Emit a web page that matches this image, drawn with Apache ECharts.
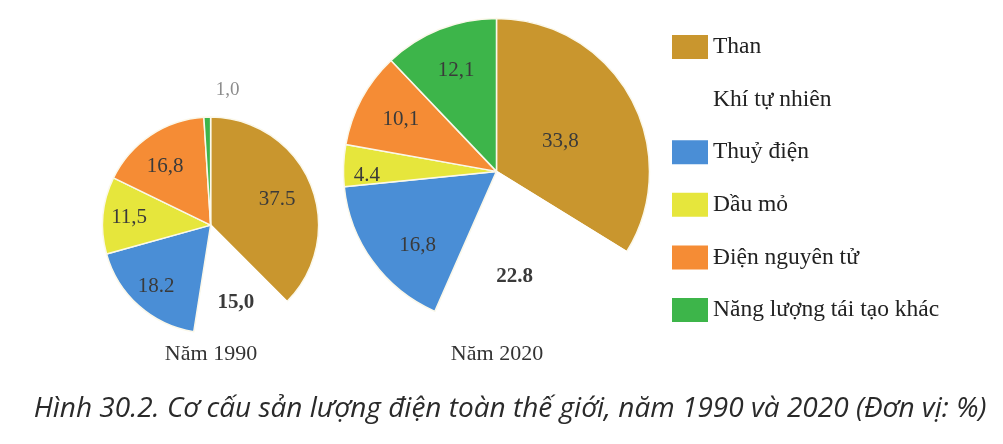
<!DOCTYPE html>
<html>
<head>
<meta charset="utf-8">
<script src="https://cdn.jsdelivr.net/npm/echarts@6/dist/echarts.min.js"></script>
<style>
  html, body { margin: 0; padding: 0; background: #ffffff; }
  #chart { width: 1003px; height: 444px; }
</style>
</head>
<body>
<div id="chart"></div>
<script>
// nguồn điện, theo thứ tự vẽ (bắt đầu từ đỉnh, theo chiều kim đồng hồ)
var categories = ['Than', 'Khí tự nhiên', 'Thuỷ điện', 'Dầu mỏ', 'Điện nguyên tử', 'Năng lượng tái tạo khác'];
var colors = ['#c9962e', '#ffffff', '#4a8ed6', '#e6e63c', '#f58c35', '#3db54a'];

var values1990 = [37.5, 15.0, 18.2, 11.5, 16.8, 1.0];
var values2020 = [33.8, 22.8, 16.8, 4.4, 10.1, 12.1];

// nhãn ghi đúng như trên hình (có chỗ dấu phẩy, có chỗ dấu chấm)
var labels1990 = ['37.5', '15,0', '18.2', '11,5', '16,8', '1,0'];
var labels2020 = ['33,8', '22.8', '16,8', '4.4', '10,1', '12,1'];

var years = ['Năm 1990', 'Năm 2020'];
var caption = 'Hình 30.2. Cơ cấu sản lượng điện toàn thế giới, năm 1990 và 2020 (Đơn vị: %)';

var SERIF = '"Liberation Serif", "DejaVu Serif", serif';
var LABEL_STYLE = { fontFamily: SERIF, fontSize: 21, color: '#3a3a3a' };

// chỉnh nhẹ vị trí vài nhãn cho giống bản gốc
var nudge1990 = { 0: [-9, 6], 4: [0, 9], 5: [38, -5] };
var nudge2020 = { 0: [-31, 23], 1: [-14, 2], 2: [9, 10], 3: [-21, 8] };

function $extend(a, b) {
    for (var k in b) { a[k] = b[k]; }
    return a;
}

function buildData(values, labels, outsideIdx, nudge) {
    var data = [];
    for (var i = 0; i < values.length; i++) {
        var item = { name: categories[i], value: values[i] };
        if (colors[i] === '#ffffff') {
            item.itemStyle = { borderColor: '#ffffff' };
        }
        if (i === outsideIdx) {
            item.label = {
                show: true, position: 'outside', formatter: labels[i],
                color: '#8c8c8c', fontSize: 19, offset: nudge[i]
            };
            item.labelLine = { show: false, length: 22, length2: 0 };
        }
        data.push(item);
    }
    return data;
}

function overlayData(values, labels, skipIdx, nudge) {
    var data = [];
    for (var i = 0; i < values.length; i++) {
        var lab = { show: i !== skipIdx, formatter: labels[i] };
        if (nudge[i]) { lab.offset = nudge[i]; }
        if (colors[i] === '#ffffff') { lab.fontWeight = 'bold'; }
        data.push({ name: categories[i], value: values[i], label: lab });
    }
    return data;
}

// bánh thật + lớp trong suốt chỉ để đặt nhãn xa tâm hơn
function pieSeries(center, r, ratio, values, labels, outsideIdx, nudge) {
    return [
        {
            type: 'pie',
            center: center,
            radius: [0, r],
            startAngle: 90,
            clockwise: true,
            silent: true,
            color: colors,
            itemStyle: { borderColor: '#fbf8ea', borderWidth: 1.5 },
            label: $extend({ show: false }, LABEL_STYLE),
            labelLine: { show: false },
            data: buildData(values, labels, outsideIdx, nudge)
        },
        {
            type: 'pie',
            center: center,
            radius: [0, r * ratio * 2],
            startAngle: 90,
            clockwise: true,
            silent: true,
            itemStyle: { color: 'rgba(0,0,0,0)', borderWidth: 0 },
            label: $extend({ show: true, position: 'inside' }, LABEL_STYLE),
            labelLine: { show: false },
            data: overlayData(values, labels, outsideIdx, nudge)
        }
    ];
}

var chart = echarts.init(document.getElementById('chart'));

var legendData = [];
for (var i = 0; i < categories.length; i++) {
    legendData.push({ name: categories[i], itemStyle: { color: colors[i], borderWidth: 0 } });
}

var yearStyle = { fontFamily: SERIF, fontSize: 22, fontWeight: 'normal', color: '#333333' };

chart.setOption({
    backgroundColor: '#ffffff',
    animation: false,
    title: [
        { text: years[0], left: 206, top: 338, textAlign: 'center', textStyle: yearStyle },
        { text: years[1], left: 492, top: 338, textAlign: 'center', textStyle: yearStyle },
        {
            text: caption, left: 505, top: 390, textAlign: 'center',
            textStyle: { fontFamily: '"Open Sans", "Noto Sans", sans-serif', fontSize: 28, fontStyle: 'italic', fontWeight: 'normal', color: '#2a2a2a' }
        }
    ],
    legend: {
        orient: 'vertical',
        left: 667,
        top: 30,
        icon: 'rect',
        itemWidth: 36,
        itemHeight: 24,
        itemGap: 28.6,
        selectedMode: false,
        data: legendData,
        textStyle: { fontFamily: SERIF, fontSize: 23.5, color: '#222222' }
    },
    series: [].concat(
        pieSeries(['21%', '50.7%'], 108, 0.73, values1990, labels1990, 5, nudge1990),
        pieSeries(['49.5%', '38.6%'], 153, 0.69, values2020, labels2020, -1, nudge2020)
    )
});
</script>
</body>
</html>
